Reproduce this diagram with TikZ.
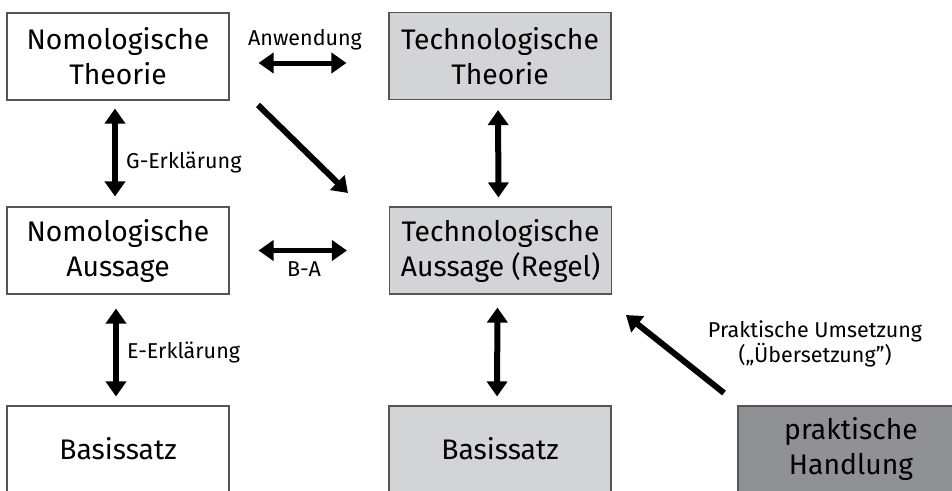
\documentclass[tikz,border=0pt]{standalone}
\usepackage{fontspec}
\setmainfont{Fira Sans}
\usetikzlibrary{arrows.meta}
\definecolor{lightbox}{HTML}{D3D4D6}
\definecolor{darkbox}{HTML}{909194}
\definecolor{edgegray}{HTML}{555555}
\begin{document}
\begin{tikzpicture}[x=1pt,y=-1pt,
  box/.style={draw=edgegray, line width=1.1pt, inner sep=0pt, align=center,
    font=\fontsize{28.3}{35}\selectfont, minimum width=222pt, minimum height=87pt},
  lbl/.style={font=\fontsize{21.5}{25}\selectfont, inner sep=0pt, align=center},
  tip/.tip={Triangle[length=15pt,width=20pt]},
  dbl/.style={line width=6pt, tip-tip},
  sgl/.style={line width=6pt, -tip}]
\useasboundingbox (0,0) rectangle (952,490);
\clip (0,0) rectangle (952,490);
\fill[white] (0,0) rectangle (952,490);

\node[box] (nt) at (118,56.5) {Nomologische\\Theorie};
\node[box, fill=lightbox] (tt) at (500,56) {Technologische\\Theorie};
\node[box] (na) at (118,250.5) {Nomologische\\Aussage};
\node[box, fill=lightbox] (ta) at (500.5,250.5) {Technologische\\Aussage (Regel)};
\node[box, minimum height=86pt] (nb) at (118,449) {Basissatz};
\node[box, minimum height=86pt, fill=lightbox] (tb) at (500,449) {Basissatz};
\node[box, minimum height=86pt, minimum width=226pt, fill=darkbox] (ph) at (851,449) {praktische\\Handlung};

\draw[dbl, shorten <=8pt, shorten >=10pt] ([xshift=-3pt]nt.south) -- ([xshift=-3pt]na.north);
\draw[dbl, shorten <=14pt, shorten >=9pt] ([xshift=-2pt]na.south) -- ([xshift=-2pt]nb.north);
\draw[dbl, shorten <=10pt, shorten >=9pt] ([xshift=-2pt]tt.south) -- ([xshift=-2pt]ta.north);
\draw[dbl, shorten <=13pt, shorten >=9pt] ([xshift=-3pt]ta.south) -- ([xshift=-3pt]tb.north);
\draw[dbl, line width=5pt, shorten <=29pt, shorten >=42pt] ([yshift=-6.5pt]nt.east) -- ([yshift=-7pt]tt.west);
\draw[dbl, line width=5pt, shorten <=29pt, shorten >=42pt] (na.east) -- (ta.west);

\coordinate (d1) at (258,105);
\coordinate (d2) at (348,193);
\draw[sgl] (d1) -- (d2);
\coordinate (p1) at (724,393);
\coordinate (p2) at (626,315);
\draw[sgl] (p1) -- (p2);

\node[lbl, anchor=base] (anw) at (305,45) {Anwendung};
\node[lbl, anchor=base west] (ge) at (126,168) {G-Erklärung};
\node[lbl, anchor=base] (ba) at (304,276) {B-A};
\node[lbl, anchor=base west] (ee) at (127,358) {E-Erklärung};
\node[lbl, anchor=base] (pu) at (815,337) {Praktische Umsetzung};
\node[lbl, anchor=base] (ue) at (815,362) {(„Übersetzung”)};
\end{tikzpicture}
\end{document}
